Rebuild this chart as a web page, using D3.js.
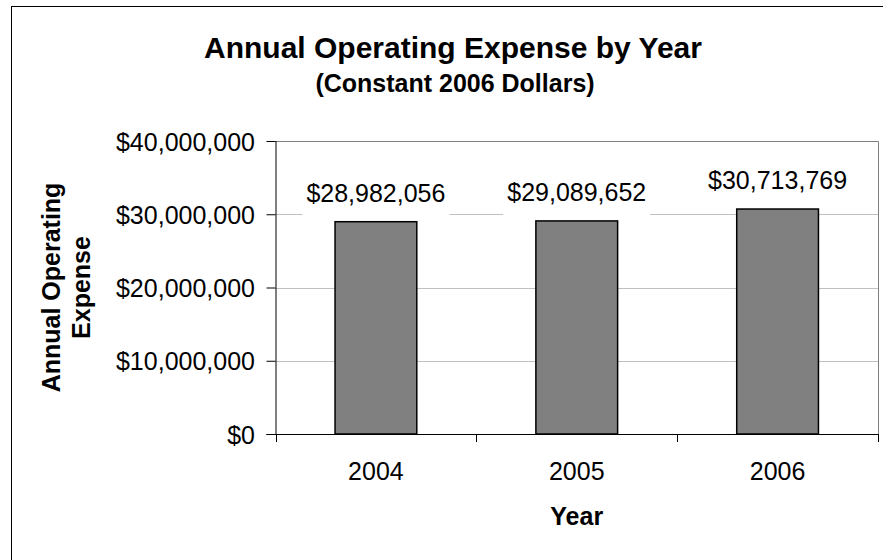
<!DOCTYPE html>
<html><head><meta charset="utf-8">
<script src="https://cdn.jsdelivr.net/npm/d3@7"></script>
<style>body{margin:0;background:#fff} text{font-family:"Liberation Sans",Arial,sans-serif;fill:#000}</style>
</head><body><svg id="c" width="883" height="560"></svg>
<script>
const categories = ["2004", "2005", "2006"];
const values = [28982056, 29089652, 30713769];
const yTicks = [0, 10000000, 20000000, 30000000, 40000000];
const titleText = "Annual Operating Expense by Year";
const subtitleText = "(Constant 2006 Dollars)";
const yTitleLines = ["Annual Operating", "Expense"];
const xTitleText = "Year";

const W = 883, H = 560;
const plot = {left: 275.5, top: 141, right: 878, bottom: 434};
const money = d => "$" + d3.format(",")(d);

const svg = d3.select("#c");
svg.append("rect").attr("width", W).attr("height", H).attr("fill", "#fff");
svg.append("rect").attr("x", 11.5).attr("y", 6.5).attr("width", W).attr("height", H)
  .attr("fill", "none").attr("stroke", "#000").attr("stroke-width", 1);

const x = d3.scaleBand().domain(categories).range([plot.left, plot.right])
  .paddingInner(0.593).paddingOuter(0.2965);
const y = d3.scaleLinear().domain([0, 40000000]).range([plot.bottom, plot.top]);

function txt(g, str, px, py, fs, bold) {
  return g.append("text").text(str).attr("x", px).attr("y", py)
    .attr("font-size", fs).attr("font-weight", bold ? "bold" : "normal")
    .attr("text-anchor", "middle");
}

// gridlines
svg.append("g").selectAll("line").data(yTicks.filter(d => d > 0 && d < 40000000)).join("line")
  .attr("x1", plot.left).attr("x2", plot.right)
  .attr("y1", d => Math.round(y(d)) + 0.5).attr("y2", d => Math.round(y(d)) + 0.5)
  .attr("stroke", "#c0c0c0").attr("stroke-width", 1);

// plot border top/right
svg.append("path")
  .attr("d", `M${plot.left},${plot.top + 0.5}H${plot.right + 0.5}V${plot.bottom}`)
  .attr("fill", "none").attr("stroke", "#808080").attr("stroke-width", 1);

// bars
svg.append("g").selectAll("rect").data(values).join("rect")
  .attr("x", (d, i) => x(categories[i]))
  .attr("y", d => y(d))
  .attr("width", x.bandwidth())
  .attr("height", d => plot.bottom - y(d))
  .attr("fill", "#808080").attr("stroke", "#000").attr("stroke-width", 1.5);

// data labels with white background
const lab = svg.append("g");
values.forEach((v, i) => {
  const cx = x(categories[i]) + x.bandwidth() / 2;
  const by = y(v) - 20;
  const t = txt(lab, money(v), cx, by, 25, false);
  const w = t.node().getBBox().width;
  lab.insert("rect", "text").attr("x", cx - w / 2 - 4).attr("y", by - 21)
    .attr("width", w + 8).attr("height", 36).attr("fill", "#fff");
});

// y axis
const ya = svg.append("g").attr("transform", `translate(${plot.left},0)`)
  .call(d3.axisLeft(y).tickValues(yTicks).tickSize(9).tickSizeOuter(0).tickFormat(money));
ya.select(".domain").attr("stroke", "#000").attr("d", `M0.5,${plot.top}V${plot.bottom}`);
ya.selectAll(".tick line").attr("stroke", "#000");
ya.selectAll(".tick text").attr("font-family", null).attr("font-size", 25)
  .attr("x", -20.5).attr("dy", "0.36em");

// x axis
const xa = svg.append("g").attr("transform", `translate(0,${plot.bottom})`);
xa.append("line").attr("x1", plot.left - 9).attr("x2", plot.right).attr("y1", 0.5).attr("y2", 0.5)
  .attr("stroke", "#000");
const bounds = categories.map(c => x(c) - (x.step() - x.bandwidth()) / 2).concat([plot.right]);
xa.selectAll("line.tk").data(bounds).join("line").attr("class", "tk")
  .attr("x1", d => Math.round(d) + 0.5).attr("x2", d => Math.round(d) + 0.5)
  .attr("y1", 0).attr("y2", 8).attr("stroke", "#000");
categories.forEach(c => txt(xa, c, x(c) + x.bandwidth() / 2, 46, 25, false));

// titles
txt(svg, titleText, 453, 58, 30, true);
txt(svg, subtitleText, 455, 92, 25, true);
txt(svg, xTitleText, (plot.left + plot.right) / 2, 525, 25, true);
const yt = svg.append("g").attr("transform", `translate(0,${(plot.top + plot.bottom) / 2}) rotate(-90)`);
yTitleLines.forEach((l, i) => {
  yt.append("text").text(l).attr("x", 0).attr("y", 60 + i * 30)
    .attr("font-size", 25).attr("font-weight", "bold").attr("text-anchor", "middle");
});
</script></body></html>
